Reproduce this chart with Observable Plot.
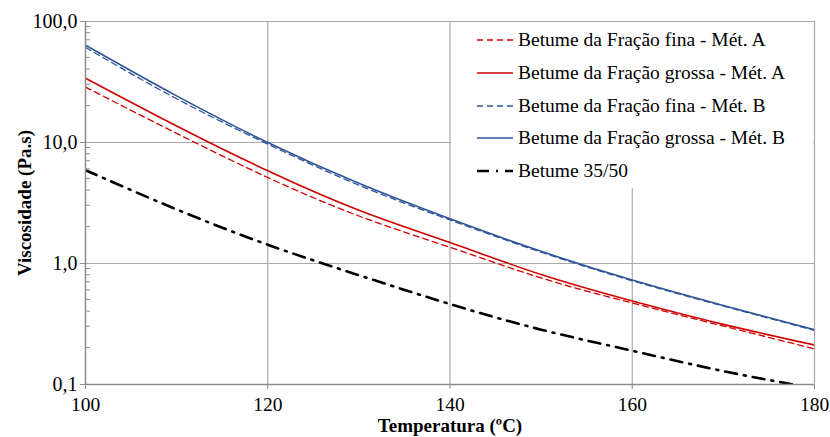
<!DOCTYPE html>
<html><head><meta charset="utf-8">
<script src="https://cdn.jsdelivr.net/npm/d3@7"></script>
<script src="https://cdn.jsdelivr.net/npm/@observablehq/plot@0.6"></script>
<style>
body{margin:0;background:#fff}
svg, svg text{font-family:"Liberation Serif","Times New Roman",serif !important}
</style>
</head><body><div id="chart"></div>
<script>
// Temperatures (ºC) and viscosities (Pa.s)
const temperatures = [100, 110, 120, 130, 140, 150, 160, 170, 180];
const finaA   = [28.7, 11.9, 5.14, 2.47, 1.36, 0.76, 0.471, 0.304, 0.197];
const grossaA = [34.0, 13.7, 5.84, 2.76, 1.49, 0.81, 0.49, 0.314, 0.212];
const finaB   = [61.0, 23.0, 9.7, 4.44, 2.29, 1.24, 0.72, 0.445, 0.28];
const grossaB = [63.8, 24.3, 10.0, 4.6, 2.34, 1.26, 0.73, 0.45, 0.283];
const b3550   = [5.9, 2.8, 1.43, 0.80, 0.462, 0.284, 0.19, 0.129, 0.093];
const seriesNames = [
  "Betume da Fração fina - Mét. A",
  "Betume da Fração grossa - Mét. A",
  "Betume da Fração fina - Mét. B",
  "Betume da Fração grossa - Mét. B",
  "Betume 35/50"
];
const xTicks = [100, 120, 140, 160, 180];
const yTicks = [0.1, 1, 10, 100];
const xGrid = [120, 140, 160];
const yGrid = [1, 10];

const seriesValues = [finaA, grossaA, finaB, grossaB, b3550];
const styles = [
  {stroke: "#d00000", strokeWidth: 1.3, strokeDasharray: "6,4"},
  {stroke: "#d00000", strokeWidth: 1.6},
  {stroke: "#2e5597", strokeWidth: 1.3, strokeDasharray: "6,4"},
  {stroke: "#2e5597", strokeWidth: 1.6},
  {stroke: "#000000", strokeWidth: 2.6, strokeDasharray: "12,7,2,7"}
];
const datasets = seriesValues.map((vals, i) =>
  temperatures.map((t, j) => ({t, v: vals[j], series: seriesNames[i]})));

const gridColor = "#a9a9a9";
const axisColor = "#8c8c8c";
const fmt = d => d.toFixed(1).replace(".", ",");

const chart = Plot.plot({
  width: 830, height: 437,
  marginLeft: 85, marginRight: 16, marginTop: 21, marginBottom: 53,
  style: {fontSize: "19.5px", color: "#000", background: "#fff"},
  x: {domain: [100, 180]},
  y: {type: "log", domain: [0.1, 100]},
  marks: [
    Plot.ruleX(xGrid, {stroke: gridColor, strokeWidth: 1.2}),
    Plot.ruleY(yGrid, {stroke: gridColor, strokeWidth: 1.2}),
    Plot.ruleX([180], {stroke: gridColor, strokeWidth: 1.2}),
    Plot.ruleY([100], {stroke: gridColor, strokeWidth: 1.2}),
    ...datasets.map((d, i) => Plot.line(d, {x: "t", y: "v", curve: "natural", clip: true, ...styles[i]})),
    Plot.axisX({ticks: xTicks, tickSize: 5, tickPadding: 8, label: null, stroke: axisColor, fill: "#000", fontSize: 19.5}),
    Plot.axisY({ticks: yTicks, tickSize: 5, tickPadding: 3, tickFormat: fmt, label: null, stroke: axisColor, fill: "#000", fontSize: 20}),
    Plot.ruleY([0.1], {stroke: axisColor, strokeWidth: 1.5}),
    Plot.ruleX([100], {stroke: axisColor, strokeWidth: 1.5}),
    Plot.text(["Temperatura (ºC)"], {frameAnchor: "bottom", dy: 47, fontWeight: "bold", fontSize: 19, textAnchor: "middle"}),
    Plot.text(["Viscosidade (Pa.s)"], {frameAnchor: "left", dx: -61, rotate: -90, fontWeight: "bold", fontSize: 19, textAnchor: "middle"})
  ]
});
document.getElementById("chart").appendChild(chart);

// minor log ticks (inside), placed via the chart's own y scale
const ys = chart.scale("y");
const xs = chart.scale("x");
const svg = d3.select(chart);
const minor = [];
[0.1, 1, 10].forEach(b => { for (let k = 2; k <= 9; k++) minor.push(b * k); });
const x0 = xs.apply(100);
svg.append("g").selectAll("line").data(minor).join("line")
  .attr("x1", x0).attr("x2", x0 + 5)
  .attr("y1", d => ys.apply(d)).attr("y2", d => ys.apply(d))
  .attr("stroke", axisColor).attr("stroke-width", 1);

// legend
const lg = svg.append("g").attr("text-anchor", "start");
lg.append("rect").attr("x", 451).attr("y", 22).attr("width", 362).attr("height", 166).attr("fill", "#fff");
const rowsY = [40, 73, 106, 138, 171];
seriesNames.forEach((name, i) => {
  const s = styles[i];
  lg.append("line").attr("x1", 477).attr("x2", 513).attr("y1", rowsY[i]).attr("y2", rowsY[i])
    .attr("stroke", s.stroke).attr("stroke-width", s.strokeWidth)
    .attr("stroke-dasharray", s.strokeDasharray || null);
  lg.append("text").attr("x", 518).attr("y", rowsY[i]).attr("dy", "0.33em")
    .attr("text-anchor", "start").attr("font-size", 19.5).attr("fill", "#000").text(name);
});
</script>
</body></html>
